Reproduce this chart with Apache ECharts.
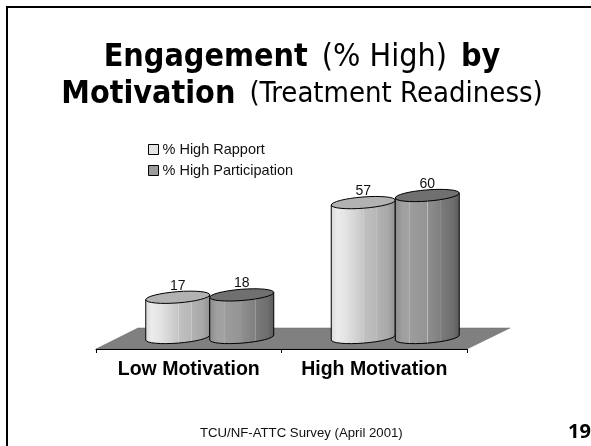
<!DOCTYPE html>
<html><head><meta charset="utf-8">
<style>html,body{margin:0;padding:0;background:#fff}#c{width:591px;height:446px}</style>
<script src="https://cdn.jsdelivr.net/npm/echarts@6/dist/echarts.min.js"></script>
</head><body><div id="c"></div>
<script>
const categories = ['Low Motivation', 'High Motivation'];
const rapport = [17, 57];
const participation = [18, 60];
const seriesNames = ['% High Rapport', '% High Participation'];

const chart = echarts.init(document.getElementById('c'), null, {renderer: 'canvas'});
const RX = 32, RY = 5.6, RISE = 5, ROT = -4.5, DEPTH = 21;
const AR = 'Liberation Sans', TA = 'DejaVu Sans Condensed';

function grad(stops) {
  return {type: 'linear', x: 0, y: 0, x2: 1, y2: 0, colorStops: stops.map(s => ({offset: s[0], color: s[1]}))};
}
const bodyLight = grad([[0,'#d8d8d8'],[0.1,'#ececec'],[0.2,'#e6e6e6'],[0.4,'#d2d2d2'],[0.5,'#c6c6c6'],[0.51,'#d6d6d6'],[0.52,'#c0c0c0'],[0.7,'#b8b8b8'],[0.71,'#cacaca'],[0.72,'#b2b2b2'],[0.88,'#a8a8a8'],[1,'#909090']]);
const bodyDark = grad([[0,'#8a8a8a'],[0.12,'#a0a0a0'],[0.22,'#a2a2a2'],[0.23,'#b8b8b8'],[0.24,'#9c9c9c'],[0.5,'#949494'],[0.505,'#c8c8c8'],[0.51,'#8e8e8e'],[0.7,'#808080'],[0.71,'#9c9c9c'],[0.72,'#7a7a7a'],[0.9,'#6e6e6e'],[1,'#585858']]);

function cylinder(side, body, topColor) {
  return function (params, api) {
    const c = api.coord([api.value(0), api.value(1)]);
    const b = api.coord([api.value(0), 0]);
    const cx = c[0] + DEPTH + side * 32;
    const l = cx - RX, r = cx + RX, yT = c[1], yB = b[1];
    const arc = 'A' + RX + ' ' + RY + ' ' + ROT + ' 0 0 ';
    const bodyPath = 'M' + l + ' ' + yT + 'L' + l + ' ' + yB + arc + r + ' ' + (yB - RISE) + 'L' + r + ' ' + (yT - RISE) + 'Z';
    const topPath = 'M' + l + ' ' + yT + arc + r + ' ' + (yT - RISE) + arc + l + ' ' + yT + 'Z';
    return {type: 'group', children: [
      {type: 'path', shape: {pathData: bodyPath}, style: {fill: body, stroke: '#000', lineWidth: 1}},
      {type: 'path', shape: {pathData: topPath}, style: {fill: topColor, stroke: '#000', lineWidth: 1}},
      {type: 'text', style: {x: cx, y: yT - 14, text: String(api.value(1)), fill: '#111',
        font: '14px "' + AR + '"', textAlign: 'center', textVerticalAlign: 'middle'}}
    ]};
  };
}

function floor(params, api) {
  const a = api.coord([0, 0]), b = api.coord([1, 0]);
  const half = (b[0] - a[0]) / 2;
  const L = a[0] - half, R = b[0] + half, yF = a[1] + 9, yK = a[1] - 12;
  return {type: 'polygon', shape: {points: [[L, yF], [L + 42, yK], [R + 43, yK], [R, yF]]},
    style: {fill: '#808080', stroke: '#666', lineWidth: 0.5}};
}

chart.setOption({
  animation: false,
  backgroundColor: '#fff',
  title: {
    left: 297, top: 34, textAlign: 'center',
    text: '{b|Engagement}{s| }{n|(% High)}{s| }{b|by}\n{b|Motivation}{s| }{t|(Treatment Readiness)}',
    textStyle: {fontWeight: 'normal', fontSize: 32, fontFamily: TA, rich: {
      b: {fontFamily: TA, fontWeight: 'bold', fontSize: 32, lineHeight: 37, color: '#000'},
      n: {fontFamily: TA, fontWeight: 'normal', fontSize: 32, lineHeight: 37, color: '#000'},
      t: {fontFamily: TA, fontWeight: 'normal', fontSize: 29, lineHeight: 37, color: '#000'},
      s: {fontFamily: TA, fontSize: 32, lineHeight: 37, width: 14, color: '#000'}
    }}
  },
  legend: {
    orient: 'vertical', left: 143, top: 137, itemWidth: 10, itemHeight: 10, itemGap: 6,
    textStyle: {fontFamily: AR, fontSize: 14.5, color: '#111', padding: [0, 0, 0, -1]},
    data: [
      {name: seriesNames[0], icon: 'rect', itemStyle: {color: '#e4e4e4', borderColor: '#000', borderWidth: 1}},
      {name: seriesNames[1], icon: 'rect', itemStyle: {color: '#9c9c9c', borderColor: '#000', borderWidth: 1}}
    ]
  },
  grid: {left: 96, width: 371, top: 198, height: 142},
  xAxis: {
    type: 'category', data: categories, offset: 9, z: 5,
    axisLine: {show: true, onZero: false, lineStyle: {color: '#000', width: 1}},
    axisTick: {show: true, interval: 0, alignWithLabel: false, length: 4, lineStyle: {color: '#000'}},
    axisLabel: {interval: 0, hideOverlap: false, fontFamily: AR, fontWeight: 'bold', fontSize: 19.5, color: '#000', margin: 11}
  },
  yAxis: {type: 'value', min: 0, max: 60, show: false, splitLine: {show: false}},
  series: [
    {type: 'custom', name: 'floor', silent: true, z: 1, renderItem: floor, data: [[0, 0]], encode: {x: 0, y: 1}},
    {type: 'custom', name: seriesNames[0], z: 2, itemStyle: {color: '#e4e4e4'}, renderItem: cylinder(-1, bodyLight, '#b2b2b2'),
      data: categories.map((c, i) => [i, rapport[i]]), encode: {x: 0, y: 1}},
    {type: 'custom', name: seriesNames[1], z: 3, itemStyle: {color: '#9c9c9c'}, renderItem: cylinder(1, bodyDark, '#707070'),
      data: categories.map((c, i) => [i, participation[i]]), encode: {x: 0, y: 1}}
  ],
  graphic: [
    {type: 'line', shape: {x1: 7, y1: 7, x2: 591, y2: 7}, style: {stroke: '#000', lineWidth: 2}},
    {type: 'line', shape: {x1: 7, y1: 6, x2: 7, y2: 446}, style: {stroke: '#000', lineWidth: 2}},
    {type: 'text', left: 200, top: 427, style: {text: 'TCU/NF-ATTC Survey (April 2001)', fill: '#111', font: '13.2px "' + AR + '"'}},
    {type: 'text', left: 568, top: 422, style: {text: '19', fill: '#000', font: 'bold 20px "Noto Sans"'}}
  ]
});
</script></body></html>
